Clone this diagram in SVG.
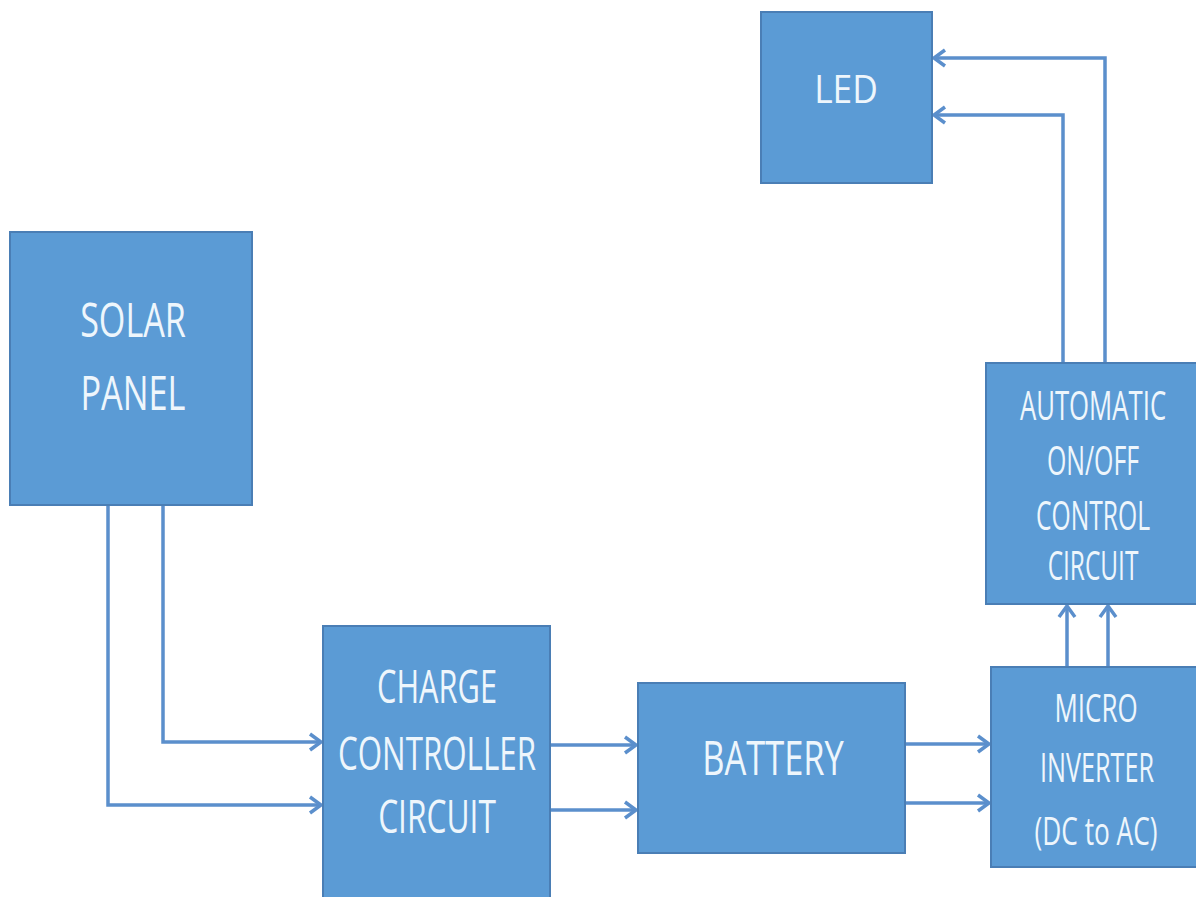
<svg xmlns="http://www.w3.org/2000/svg" width="1196" height="897" viewBox="0 0 1196 897">
<defs>
<style>
.box{fill:#5B9BD5;stroke:#4A7EB5;stroke-width:2}
.lbl{font-family:"Open Sans","Noto Sans","Liberation Sans",sans-serif;fill:#EEF6FC;text-anchor:middle}
.wire{fill:none;stroke:#5B8FCC;stroke-width:3.5;marker-end:url(#arr)}
</style>
<marker id="arr" markerUnits="userSpaceOnUse" markerWidth="16" markerHeight="20" refX="13" refY="10" orient="auto">
<path d="M2,2 L13,10 L2,18" fill="none" stroke="#5B8FCC" stroke-width="3.5"/>
</marker>
</defs>
<rect width="1196" height="897" fill="#ffffff"/>
<g id="connectors">
<path class="wire" d="M163,506 V742 H321"/>
<path class="wire" d="M108,506 V805 H321"/>
<path class="wire" d="M551,745 H636"/>
<path class="wire" d="M551,810 H636"/>
<path class="wire" d="M906,744 H989"/>
<path class="wire" d="M906,803 H989"/>
<path class="wire" d="M1067,667 V606"/>
<path class="wire" d="M1108,667 V606"/>
<path class="wire" d="M1063,363 V115 H934"/>
<path class="wire" d="M1105,363 V58 H934"/>
</g>
<g id="led">
<rect class="box" x="761" y="12" width="171" height="171"/>
<text class="lbl" transform="translate(846,0) scale(0.75,1)" x="0" y="103" font-size="39" textLength="85" lengthAdjust="spacingAndGlyphs">LED</text>
</g>
<g id="solar-panel">
<rect class="box" x="10" y="232" width="242" height="273"/>
<text class="lbl" transform="translate(133,0) scale(0.75,1)" x="0" y="337" font-size="47" textLength="141" lengthAdjust="spacingAndGlyphs">SOLAR</text>
<text class="lbl" transform="translate(133,0) scale(0.75,1)" x="0" y="410" font-size="47" textLength="140" lengthAdjust="spacingAndGlyphs">PANEL</text>
</g>
<g id="charge-controller">
<rect class="box" x="323" y="626" width="227" height="275"/>
<text class="lbl" transform="translate(437,0) scale(0.75,1)" x="0" y="703" font-size="46" textLength="160" lengthAdjust="spacingAndGlyphs">CHARGE</text>
<text class="lbl" transform="translate(437,0) scale(0.75,1)" x="0" y="770" font-size="46" textLength="264" lengthAdjust="spacingAndGlyphs">CONTROLLER</text>
<text class="lbl" transform="translate(437,0) scale(0.75,1)" x="0" y="833" font-size="46" textLength="157" lengthAdjust="spacingAndGlyphs">CIRCUIT</text>
</g>
<g id="battery">
<rect class="box" x="638" y="683" width="267" height="170"/>
<text class="lbl" transform="translate(773,0) scale(0.75,1)" x="0" y="775" font-size="48" textLength="189" lengthAdjust="spacingAndGlyphs">BATTERY</text>
</g>
<g id="automatic-control">
<rect class="box" x="986" y="363" width="215" height="241"/>
<text class="lbl" transform="translate(1093,0) scale(0.75,1)" x="0" y="420" font-size="40" textLength="195" lengthAdjust="spacingAndGlyphs">AUTOMATIC</text>
<text class="lbl" transform="translate(1093,0) scale(0.75,1)" x="0" y="475" font-size="40" textLength="123" lengthAdjust="spacingAndGlyphs">ON/OFF</text>
<text class="lbl" transform="translate(1093,0) scale(0.75,1)" x="0" y="530" font-size="40" textLength="152" lengthAdjust="spacingAndGlyphs">CONTROL</text>
<text class="lbl" transform="translate(1093,0) scale(0.75,1)" x="0" y="580" font-size="40" textLength="121" lengthAdjust="spacingAndGlyphs">CIRCUIT</text>
</g>
<g id="micro-inverter">
<rect class="box" x="991" y="667" width="210" height="200"/>
<text class="lbl" transform="translate(1096,0) scale(0.75,1)" x="0" y="722" font-size="38" textLength="111" lengthAdjust="spacingAndGlyphs">MICRO</text>
<text class="lbl" transform="translate(1097,0) scale(0.75,1)" x="0" y="782" font-size="40" textLength="152" lengthAdjust="spacingAndGlyphs">INVERTER</text>
<text class="lbl" transform="translate(1096,0) scale(0.75,1)" x="0" y="845" font-size="38" textLength="164" lengthAdjust="spacingAndGlyphs">(DC to AC)</text>
</g>
</svg>
